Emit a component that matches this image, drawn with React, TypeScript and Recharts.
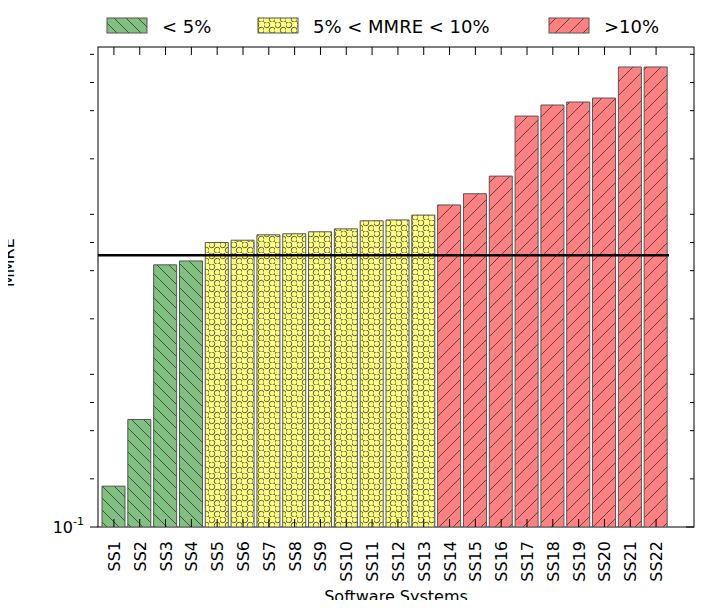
import { ComposedChart, Bar, XAxis, YAxis, ReferenceLine, Cell } from "recharts";

const systems = ["SS1","SS2","SS3","SS4","SS5","SS6","SS7","SS8","SS9","SS10","SS11","SS12","SS13","SS14","SS15","SS16","SS17","SS18","SS19","SS20","SS21","SS22"];
const mmre = [0.18,0.47,4.35,4.6,6.0,6.2,6.7,6.8,7.0,7.3,8.2,8.3,8.9,10.3,12.1,15.6,37,43.4,45.3,48,75,75];
const threshold = 5;
const majorTicks = [0.1, 1, 10, 100];
const minorTicks = [0.2,0.3,0.4,0.5,0.6,0.7,0.8,0.9,2,3,4,5,6,7,8,9,20,30,40,50,60,70,80,90];
const legendItems = [
  { label: "< 5%", fill: "url(#pGreen)", x: 107 },
  { label: "5% < MMRE < 10%", fill: "url(#pYellow)", x: 258 },
  { label: ">10%", fill: "url(#pRed)", x: 549 },
];

const data = systems.map((name, i) => ({ name, v: mmre[i] }));
const fillFor = (v: number) => (v < 5 ? "url(#pGreen)" : v < 10 ? "url(#pYellow)" : "url(#pRed)");
const expo: Record<number, string> = { 0.1: "-1", 1: "0", 10: "1", 100: "2" };

const YTick = (props: any) => {
  const { x, y, payload } = props;
  const major = majorTicks.includes(payload.value);
  const len = major ? 8 : 4;
  return (
    <g>
      <line x1={x} x2={x + len} y1={y} y2={y} stroke="#000" />
      <line x1={694} x2={694 - len} y1={y} y2={y} stroke="#000" />
      {major && (
        <text x={x - 6} y={y + 6} textAnchor="end" fontSize={16} fill="#000">
          10<tspan dy={-8} fontSize={11}>{expo[payload.value]}</tspan>
        </text>
      )}
    </g>
  );
};

const XTick = (props: any) => {
  const { x, y, payload } = props;
  return (
    <g>
      <line x1={x} x2={x} y1={527} y2={519} stroke="#000" />
      <line x1={x} x2={x} y1={47} y2={55} stroke="#000" />
      <text x={x + 6} y={y + 6} transform={`rotate(-90 ${x + 6} ${y + 6})`} textAnchor="end" fontSize={16} fill="#000">
        {payload.value}
      </text>
    </g>
  );
};

export default function App() {
  return (
    <div style={{ margin: -8, width: 704, height: 608, background: "#fff", position: "relative", fontFamily: "DejaVu Sans" }}>
      <svg width={704} height={50} style={{ position: "absolute", left: 0, top: 0 }}>
        <defs>
          <pattern id="lgGreen" width="10" height="10" patternUnits="userSpaceOnUse">
            <rect width="10" height="10" fill="#80c080" />
            <path d="M0,0 L10,10 M-5,5 L5,15 M5,-5 L15,5" stroke="#333" strokeWidth={0.8} />
          </pattern>
        </defs>
        {legendItems.map((it) => (
          <g key={it.label}>
            <rect x={it.x} y={18} width={40} height={15} fill={it.fill} stroke="#555" />
            <text x={it.x + 55} y={33} fontSize={18} fill="#000">{it.label}</text>
          </g>
        ))}
      </svg>
      <ComposedChart width={704} height={608} data={data} margin={{ top: 47, right: 10, bottom: 0, left: 0 }}>
        <defs>
          <pattern id="pGreen" width="12" height="12" patternUnits="userSpaceOnUse">
            <rect width="12" height="12" fill="#80c080" />
            <path d="M0,0 L12,12 M-6,6 L6,18 M6,-6 L18,6" stroke="#333" strokeWidth={0.8} />
          </pattern>
          <pattern id="pYellow" width="11" height="11" patternUnits="userSpaceOnUse">
            <rect width="11" height="11" fill="#ffff80" />
            <circle cx="2.75" cy="2.75" r="3" fill="none" stroke="#333" strokeWidth={0.8} />
            <circle cx="8.25" cy="8.25" r="3" fill="none" stroke="#333" strokeWidth={0.8} />
          </pattern>
          <pattern id="pRed" width="14" height="14" patternUnits="userSpaceOnUse">
            <rect width="14" height="14" fill="#ff8080" />
            <path d="M0,14 L14,0 M-7,7 L7,-7 M7,21 L21,7" stroke="#333" strokeWidth={0.8} />
          </pattern>
        </defs>
        <XAxis dataKey="name" height={81} interval={0} tick={<XTick />} tickLine={false} axisLine={false}
          padding={{ left: 3, right: 25 }}
          label={{ value: "Software Systems", position: "insideBottom", offset: 6, fontSize: 16, fill: "#000" }} />
        <YAxis scale="log" domain={[0.1, 100]} ticks={[...majorTicks, ...minorTicks]} allowDataOverflow width={98}
          tick={<YTick />} tickLine={false} axisLine={false}
          label={{ value: "MMRE", angle: -90, position: "insideLeft", offset: 8, fontSize: 16, fill: "#000" }} />
        <Bar dataKey="v" barSize={23} isAnimationActive={false} stroke="#555" strokeWidth={1}>
          {data.map((d) => <Cell key={d.name} fill={fillFor(d.v)} />)}
        </Bar>
        <ReferenceLine y={threshold} shape={(p: any) => (
          <line x1={p.x1} y1={p.y1} x2={p.x2 - 25} y2={p.y2} stroke="#000" strokeWidth={2.5} />
        )} />
        <rect x={98} y={47} width={596} height={480} fill="none" stroke="#000" />
      </ComposedChart>
    </div>
  );
}
